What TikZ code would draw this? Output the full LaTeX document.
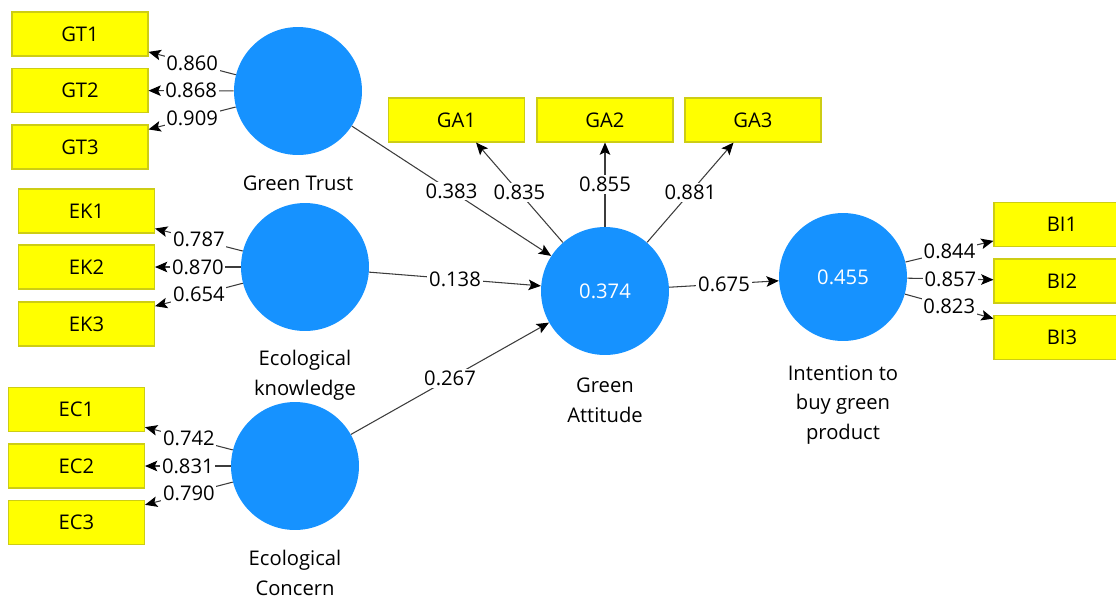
\documentclass[tikz,border=0pt]{standalone}
\usepackage{fontspec}
\setmainfont{Open Sans}
\usetikzlibrary{arrows.meta}
\definecolor{lvblue}{RGB}{22,146,255}
\definecolor{mvyellow}{RGB}{255,255,0}
\definecolor{mvborder}{RGB}{205,205,20}
\definecolor{pathgray}{RGB}{60,60,60}
\tikzset{
  latent/.style={circle,fill=lvblue,draw=none,minimum size=2.56cm,inner sep=0pt,
    text=white,font=\fontsize{11.5}{14}\selectfont},
  manifest/.style={rectangle,fill=mvyellow,draw=mvborder,line width=0.6pt,
    minimum width=2.72cm,minimum height=0.88cm,inner sep=0pt,
    font=\fontsize{11.5}{14}\selectfont},
  lvname/.style={align=center,font=\fontsize{11.5}{17}\selectfont,inner sep=0pt},
  coef/.style={fill=white,inner sep=1pt,font=\fontsize{11.5}{14}\selectfont},
  pathline/.style={draw=pathgray,line width=0.6pt,
    -{Stealth[length=7pt,width=6pt,inset=1.5pt,color=black]}}
}
\begin{document}
\begin{tikzpicture}[x=0.02cm,y=-0.02cm]
\useasboundingbox (0,0) rectangle (1116,596);
\clip (0,0) rectangle (1116,596);
% latent variables
\node[latent] (GT) at (298,91) {};
\node[latent] (EK) at (305,267) {};
\node[latent] (EC) at (295,466) {};
\node[latent] (GA) at (605,291) {0.374};
\node[latent] (BI) at (843,277) {0.455};
\node[lvname] (GTname) at (298,183) {Green Trust};
\node[lvname] (EKname) at (305,375) {Ecological\\knowledge};
\node[lvname] (ECname) at (295,573) {Ecological\\Concern};
\node[lvname] (GAname) at (605,400) {Green\\Attitude};
\node[lvname] (BIname) at (843,405) {Intention to\\buy green\\product};
% indicators
\node[manifest] (GT1) at (80,34) {GT1};
\node[manifest] (GT2) at (80,90.5) {GT2};
\node[manifest] (GT3) at (80,147) {GT3};
\node[manifest] (EK1) at (86.5,211) {EK1};
\node[manifest] (EK2) at (86.5,267) {EK2};
\node[manifest] (EK3) at (86.5,324) {EK3};
\node[manifest] (EC1) at (76.5,409.5) {EC1};
\node[manifest] (EC2) at (76.5,466) {EC2};
\node[manifest] (EC3) at (76.5,522.5) {EC3};
\node[manifest] (GA1) at (456.5,120) {GA1};
\node[manifest] (GA2) at (605,120) {GA2};
\node[manifest] (GA3) at (753,120) {GA3};
\node[manifest] (BI1) at (1062,224.5) {BI1};
\node[manifest] (BI2) at (1062,281) {BI2};
\node[manifest] (BI3) at (1062,337.5) {BI3};
% outer loadings
\draw[pathline] (GT) -- node[coef] {0.860} (GT1);
\draw[pathline] (GT) -- node[coef] {0.868} (GT2);
\draw[pathline] (GT) -- node[coef] {0.909} (GT3);
\draw[pathline] (EK) -- node[coef] {0.787} (EK1);
\draw[pathline] (EK) -- node[coef] {0.870} (EK2);
\draw[pathline] (EK) -- node[coef] {0.654} (EK3);
\draw[pathline] (EC) -- node[coef] {0.742} (EC1);
\draw[pathline] (EC) -- node[coef] {0.831} (EC2);
\draw[pathline] (EC) -- node[coef] {0.790} (EC3);
\draw[pathline] (GA) -- node[coef] {0.835} (GA1);
\draw[pathline] (GA) -- node[coef] {0.855} (GA2);
\draw[pathline] (GA) -- node[coef] {0.881} (GA3);
\draw[pathline] (BI) -- node[coef] {0.844} (BI1);
\draw[pathline] (BI) -- node[coef] {0.857} (BI2);
\draw[pathline] (BI) -- node[coef] {0.823} (BI3);
% path coefficients
\draw[pathline] (GT) -- node[coef] {0.383} (GA);
\draw[pathline] (EK) -- node[coef] {0.138} (GA);
\draw[pathline] (EC) -- node[coef] {0.267} (GA);
\draw[pathline] (GA) -- node[coef] {0.675} (BI);
\end{tikzpicture}
\end{document}
